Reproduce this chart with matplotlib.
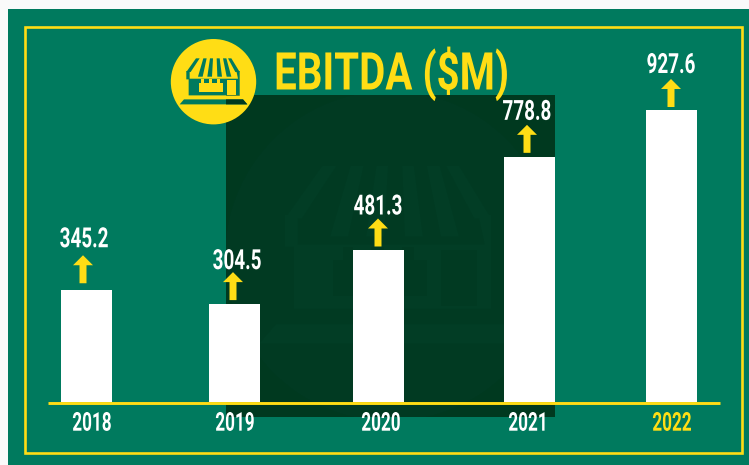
import matplotlib
matplotlib.use('Agg')
import matplotlib.pyplot as plt
import matplotlib.patheffects as pe
from matplotlib.patches import Circle, Rectangle, Polygon
from matplotlib.transforms import Affine2D

years = ['2018', '2019', '2020', '2021', '2022']
values = [345.2, 304.5, 481.3, 778.8, 927.6]
# the bars in the picture are not quite to scale with their labels
bar_heights = [355.0, 311.0, 481.3, 778.8, 927.6]

bar_x = [86.5, 234.5, 378.5, 529.5, 671.5]
arrow_x = [83, 233, 378, 527, 671]
arrow_gap = [7, 4, 4, 4, 3]
label_x = [84, 237, 378, 527, 671]
label_gap = [43, 35, 36, 37, 37]
tick_x = [92, 235, 381, 528, 672]

green = '#007A5E'
dark = '#00391F'
dark2 = '#013A22'
dark3 = '#023D25'
yellow = '#FFDD15'
font = ['Roboto', 'DejaVu Sans']

W, H = 749, 465
base_y = 402
k = 292 / 927.6


# squeezes the glyphs around x=cx, there is no DIN condensed here
class Squeeze(pe.AbstractPathEffect):
    def __init__(self, cx, sx):
        super().__init__()
        self.cx = cx
        self.sx = sx

    def draw_path(self, renderer, gc, tpath, affine, rgbFace=None):
        t = affine + Affine2D().translate(-self.cx, 0).scale(self.sx, 1).translate(self.cx, 0)
        renderer.draw_path(gc, tpath, t, rgbFace)


def narrow(a, x, y, s, size, sx, color):
    a.text(x, y, s, color=color, family=font, weight='bold', fontsize=size, ha='center', va='baseline',
           path_effects=[Squeeze(x, sx)], zorder=6)


# shop icon, shapes measured on the small one, r is the circle radius
def draw_icon(a, cx, cy, r, color, z, hole_color=None, clip=None):
    def pts(p):
        return [(cx + (x - 136.5) * r / 128, cy + (y - 137) * r / 128) for x, y in p]

    shapes = [
        [(84, 67), (95, 67), (68, 108), (55, 108)],
        [(106, 67), (116, 67), (104, 122), (90, 122)],
        [(126, 67), (135, 67), (132, 122), (118, 122)],
        [(146, 67), (155, 67), (162, 122), (148, 122)],
        [(165, 67), (175, 67), (190, 122), (176, 122)],
        [(180, 67), (190, 67), (215, 108), (202, 108)],
        [(55, 105), (65, 105), (65, 128), (210, 128), (205, 105), (215, 105), (215, 178), (62, 178), (62, 130), (55, 130)],
        [(35, 205), (48, 190), (225, 190), (238, 205)],
    ]
    for s in shapes:
        p = Polygon(pts(s), closed=True, fc=color, lw=0, zorder=z)
        a.add_patch(p)
        if clip is not None:
            p.set_clip_path(clip)
    if hole_color is None:
        return
    holes = [
        [(92, 140), (100, 140), (100, 130), (108, 130), (108, 140), (122, 140), (122, 130), (132, 130), (132, 140),
         (146, 140), (146, 130), (155, 130), (155, 140), (165, 140), (165, 168), (92, 168)],
        [(176, 132), (204, 132), (204, 176), (176, 176)],
    ]
    for s in holes:
        a.add_patch(Polygon(pts(s), closed=True, fc=hole_color, lw=0, zorder=z + 0.1))


fig = plt.figure(figsize=(W / 100, H / 100), dpi=100, facecolor='#FAFAFA')

# background in pixel coords
bg = fig.add_axes([0, 0, 1, 1])
bg.set_xlim(0, W)
bg.set_ylim(H, 0)
bg.axis('off')
bg.add_patch(Rectangle((8, 9), W - 8, H - 9, color=green, lw=0, zorder=1))
sq = Rectangle((226, 95), 329, 322, color=dark, lw=0, zorder=2)
bg.add_patch(sq)

# faint big icon inside the dark square
wm = Circle((390, 256), 165, color=dark2, lw=0, zorder=2.1)
bg.add_patch(wm)
wm.set_clip_path(sq)
draw_icon(bg, 390, 256, 165, dark3, 2.2, hole_color=dark2)

bg.add_patch(Rectangle((25.3, 27.5), 716.7, 425.5, fill=False, ec=yellow, lw=1.9, zorder=3))

bg.add_patch(Circle((213.5, 81.7), 42.7, color=yellow, lw=0, zorder=4))
draw_icon(bg, 213.5, 81.7, 42.7, green, 5, hole_color=yellow)
# base of the icon shows the dark square through it
draw_icon(bg, 213.5, 81.7, 42.7, dark, 5.5, clip=Rectangle((226, 95), 40, 40, transform=bg.transData))
narrow(bg, 391.5, 89.5, 'EBITDA ($M)', 37.5, 0.773, yellow)

# chart
ax = fig.add_axes([0, 0, 1, 1], zorder=2)
ax.patch.set_alpha(0)
ax.set_xlim(0, W)
ax.set_ylim(-(H - base_y) / k, base_y / k)
ax.axis('off')
ax.bar(bar_x, bar_heights, width=51, color='white', zorder=2)
ax.plot([48, 720], [-0.5 / k, -0.5 / k], color=yellow, lw=2.1, solid_capstyle='butt', zorder=3)

for i in range(5):
    top = bar_heights[i]
    x = arrow_x[i]
    y0 = top + arrow_gap[i] / k
    tip = y0 + 28 / k
    neck = tip - 10 / k
    ax.add_patch(Polygon([(x - 3.5, y0), (x + 3.5, y0), (x + 3.5, neck), (x + 10, neck), (x, tip),
                          (x - 10, neck), (x - 3.5, neck)], closed=True, fc=yellow, lw=0, zorder=4))
    narrow(ax, label_x[i], top + label_gap[i] / k, f'{values[i]:.1f}', 20, 0.68, 'white')
    narrow(ax, tick_x[i], -28.7 / k, years[i], 18.7, 0.66, yellow if years[i] == '2022' else 'white')

fig.savefig('out.png', dpi=100, facecolor=fig.get_facecolor())
